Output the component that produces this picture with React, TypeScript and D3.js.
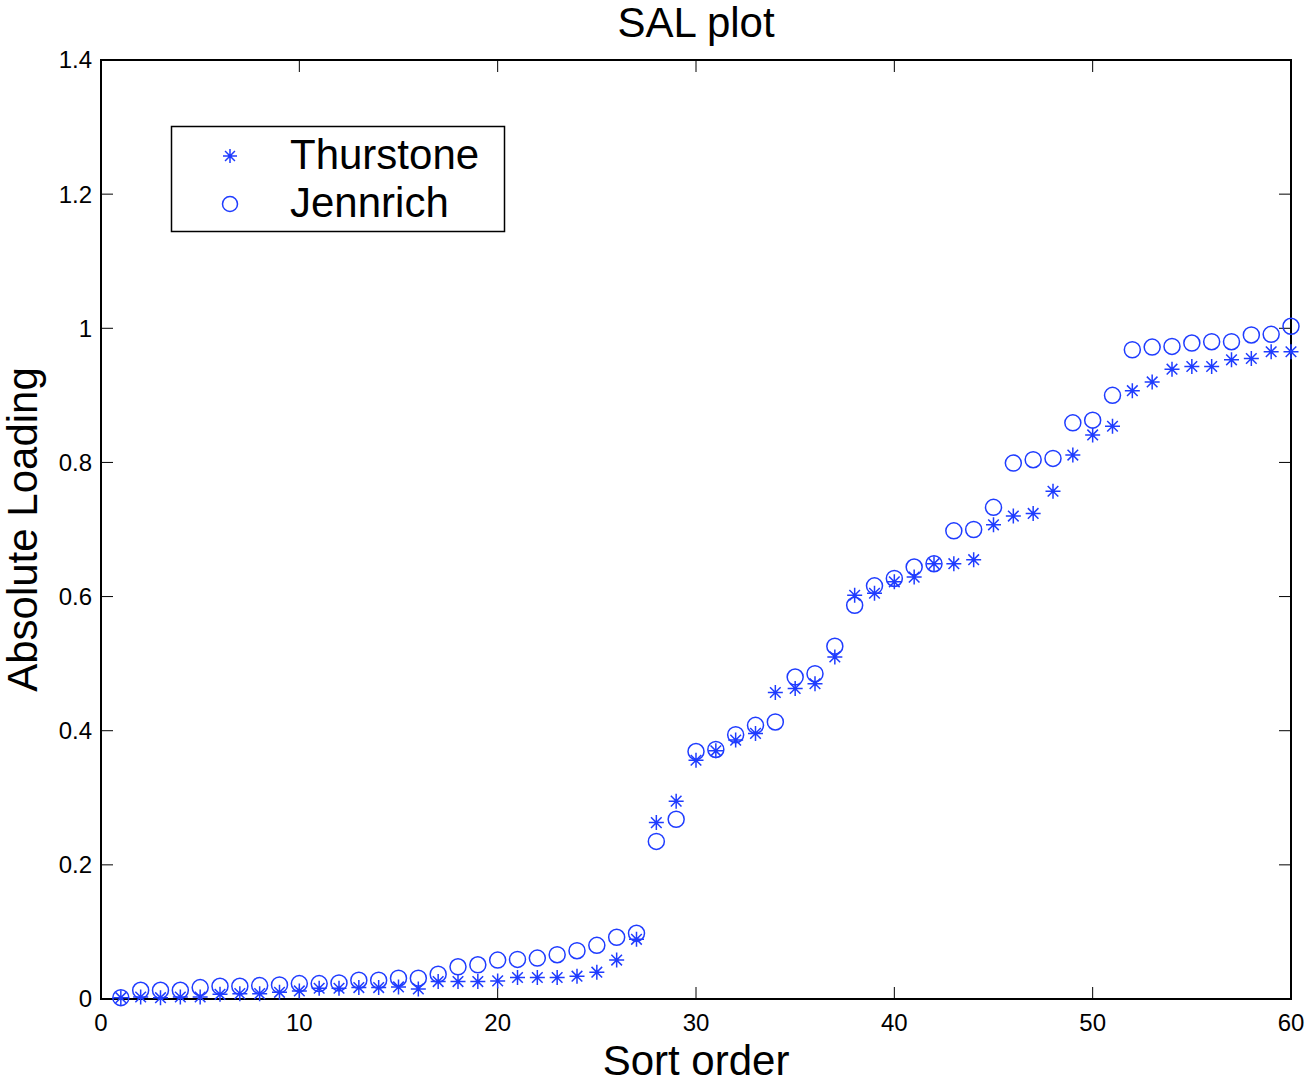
import React from "react";
import * as d3 from "d3";

const thurstone = [
  0.002, 0.003, 0.002, 0.003, 0.003, 0.007, 0.008, 0.008, 0.010, 0.012,
  0.016, 0.016, 0.017, 0.017, 0.018, 0.015, 0.026, 0.026, 0.026, 0.027,
  0.032, 0.032, 0.032, 0.034, 0.040, 0.058, 0.089, 0.263, 0.295, 0.356,
  0.370, 0.386, 0.396, 0.457, 0.463, 0.470, 0.510, 0.602, 0.605, 0.622,
  0.629, 0.649, 0.649, 0.655, 0.707, 0.720, 0.724, 0.757, 0.811, 0.841,
  0.854, 0.907, 0.920, 0.939, 0.943, 0.943, 0.953, 0.955, 0.965, 0.965,
];
const jennrich = [
  0.002, 0.013, 0.013, 0.013, 0.017, 0.019, 0.019, 0.020, 0.021, 0.023,
  0.023, 0.024, 0.028, 0.028, 0.031, 0.031, 0.037, 0.048, 0.051, 0.058,
  0.059, 0.061, 0.066, 0.072, 0.080, 0.092, 0.098, 0.235, 0.268, 0.369,
  0.372, 0.394, 0.408, 0.413, 0.480, 0.485, 0.526, 0.587, 0.616, 0.627,
  0.644, 0.649, 0.698, 0.700, 0.733, 0.799, 0.804, 0.806, 0.859, 0.863,
  0.900, 0.968, 0.972, 0.973, 0.978, 0.980, 0.980, 0.990, 0.991, 1.003,
];
const xTicks = [0, 10, 20, 30, 40, 50, 60];
const yTicks = [0, 0.2, 0.4, 0.6, 0.8, 1, 1.2, 1.4];
const seriesNames = ["Thurstone", "Jennrich"];

const W = 1306;
const H = 1084;
const L = 101, R = 1291, T = 60, B = 999;
const BLUE = "#1f3cff";
const FONT = "'Liberation Sans', Arial, Helvetica, sans-serif";

function Star({ x, y, r = 7.5 }: { x: number; y: number; r?: number }) {
  const d = r * Math.SQRT1_2;
  return (
    <path
      d={`M${x - r},${y}L${x + r},${y}M${x},${y - r}L${x},${y + r}M${x - d},${y - d}L${x + d},${y + d}M${x - d},${y + d}L${x + d},${y - d}`}
      stroke={BLUE}
      strokeWidth={1.5}
      fill="none"
    />
  );
}

export default function App() {
  const x = d3.scaleLinear().domain([0, 60]).range([L, R]);
  const y = d3.scaleLinear().domain([0, 1.4]).range([B, T]);
  const tickLen = 12;
  const idx = thurstone.map((_, i) => i + 1);

  return (
    <svg
      width={W}
      height={H}
      style={{ position: "absolute", left: 0, top: 0, background: "#fff" }}
      fontFamily={FONT}
    >
      <rect x={0} y={0} width={W} height={H} fill="#fff" />
      {/* ticks */}
      {xTicks.map((t) => (
        <g key={"x" + t}>
          <line x1={x(t)} x2={x(t)} y1={B} y2={B - tickLen} stroke="#000" strokeWidth={1} />
          <line x1={x(t)} x2={x(t)} y1={T} y2={T + tickLen} stroke="#000" strokeWidth={1} />
          <text x={x(t)} y={B + 32} textAnchor="middle" fontSize={24} fill="#000">
            {t}
          </text>
        </g>
      ))}
      {yTicks.map((t) => (
        <g key={"y" + t}>
          <line x1={L} x2={L + tickLen} y1={y(t)} y2={y(t)} stroke="#000" strokeWidth={1} />
          <line x1={R} x2={R - tickLen} y1={y(t)} y2={y(t)} stroke="#000" strokeWidth={1} />
          <text x={L - 9} y={y(t)} dy="0.35em" textAnchor="end" fontSize={24} fill="#000">
            {d3.format("~g")(t)}
          </text>
        </g>
      ))}
      <rect x={L} y={T} width={R - L} height={B - T} fill="none" stroke="#000" strokeWidth={2} />

      {/* data */}
      {idx.map((i) => (
        <Star key={"s" + i} x={x(i)} y={y(thurstone[i - 1])} />
      ))}
      {idx.map((i) => (
        <circle key={"c" + i} cx={x(i)} cy={y(jennrich[i - 1])} r={8} fill="none" stroke={BLUE} strokeWidth={1.5} />
      ))}

      {/* legend */}
      <rect x={171.5} y={126.5} width={333} height={105} fill="#fff" stroke="#000" strokeWidth={1.5} />
      <Star x={230} y={156} r={7} />
      <circle cx={230} cy={204} r={7.5} fill="none" stroke={BLUE} strokeWidth={1.5} />
      <text x={290} y={169} fontSize={42} fill="#000">{seriesNames[0]}</text>
      <text x={290} y={217} fontSize={42} fill="#000">{seriesNames[1]}</text>

      {/* titles */}
      <text x={(L + R) / 2} y={37} textAnchor="middle" fontSize={42} fill="#000">SAL plot</text>
      <text x={(L + R) / 2} y={1075} textAnchor="middle" fontSize={42} fill="#000">Sort order</text>
      <text
        transform={`translate(37,${(T + B) / 2}) rotate(-90)`}
        textAnchor="middle"
        fontSize={42}
        fill="#000"
      >
        Absolute Loading
      </text>
    </svg>
  );
}
